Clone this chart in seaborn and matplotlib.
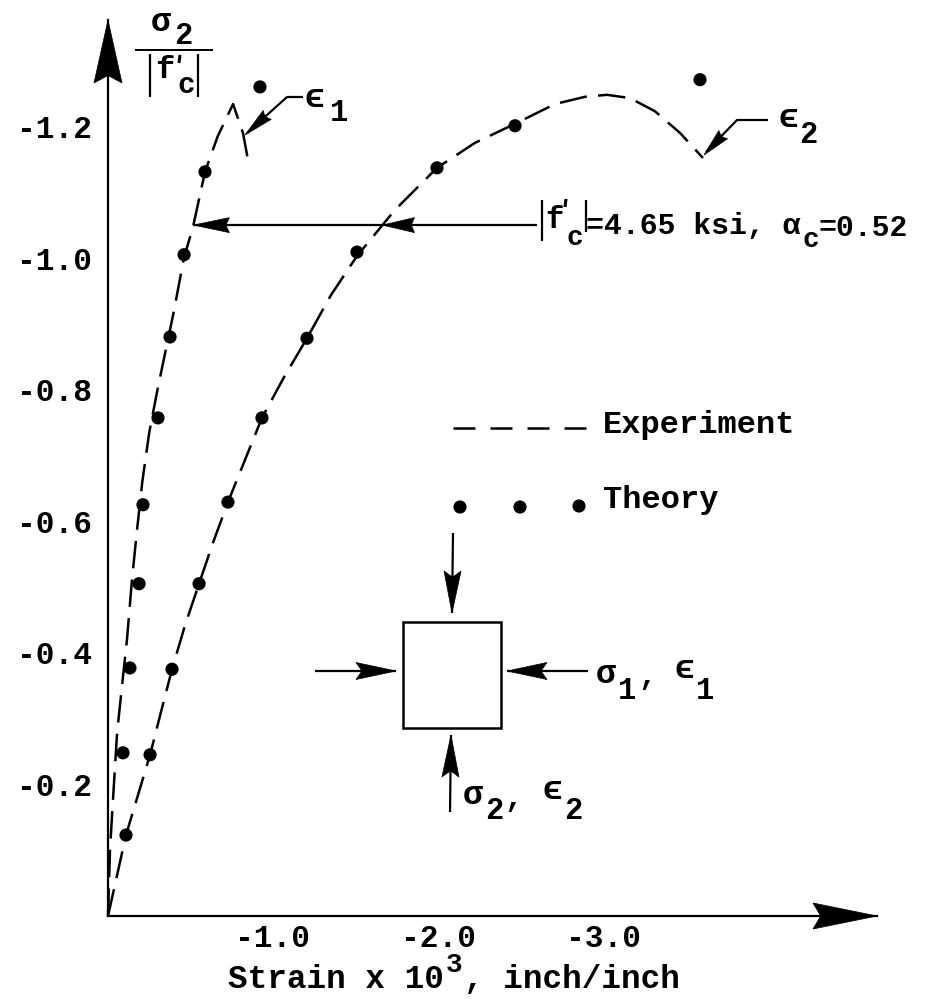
import numpy as np
import pandas as pd
import matplotlib
matplotlib.use("Agg")
import matplotlib.pyplot as plt
from matplotlib.patches import Polygon, Rectangle
import seaborn as sns

# ---- data: strain x 10^3 (compressive, negative) and sigma2/|f'c| ----
eps1_exp_strain = [0.0, -0.012, -0.030, -0.055, -0.085, -0.115, -0.145, -0.176, -0.208,
                   -0.250, -0.300, -0.350, -0.400, -0.460, -0.515, -0.588, -0.665,
                   -0.758, -0.818, -0.855]
eps1_exp_stress = [0.0, -0.100, -0.176, -0.278, -0.350, -0.420, -0.510, -0.587, -0.660,
                   -0.735, -0.800, -0.860, -0.920, -1.000, -1.047, -1.131, -1.185,
                   -1.234, -1.190, -1.140]

eps2_exp_strain = [0.0, -0.055, -0.109, -0.182, -0.255, -0.321, -0.388, -0.467, -0.552,
                   -0.636, -0.727, -0.830, -0.933, -1.067, -1.206, -1.352, -1.509,
                   -1.739, -1.994, -2.224, -2.467, -2.709, -2.891, -3.024, -3.164,
                   -3.315, -3.467, -3.606]
eps2_exp_stress = [0.0, -0.062, -0.123, -0.184, -0.245, -0.310, -0.375, -0.442, -0.505,
                   -0.567, -0.629, -0.693, -0.757, -0.819, -0.878, -0.944, -1.003,
                   -1.073, -1.137, -1.175, -1.204, -1.234, -1.245, -1.248, -1.243,
                   -1.223, -1.190, -1.152]

eps1_th_strain = [-0.091, -0.133, -0.188, -0.212, -0.303, -0.376, -0.461, -0.588, -0.921]
eps1_th_stress = [-0.248, -0.377, -0.505, -0.625, -0.757, -0.880, -1.005, -1.131, -1.260]

eps2_th_strain = [-0.109, -0.255, -0.388, -0.552, -0.727, -0.933, -1.206, -1.509,
                  -1.994, -2.467, -3.588]
eps2_th_stress = [-0.123, -0.245, -0.375, -0.505, -0.629, -0.757, -0.878, -1.009,
                  -1.137, -1.201, -1.271]

x_ticks = [-1.0, -2.0, -3.0]
x_tick_labels = ["-1.0", "-2.0", "-3.0"]
y_ticks = [-0.2, -0.4, -0.6, -0.8, -1.0, -1.2]
y_tick_labels = ["-0.2", "-0.4", "-0.6", "-0.8", "-1.0", "-1.2"]

fc_level = -1.05  # stress level marked by the |f'c| arrow

# ---- style ----
sns.set_theme(style="white")
MONO = ["Liberation Mono", "DejaVu Sans Mono", "DejaVu Sans"]
plt.rcParams["font.family"] = MONO
plt.rcParams["font.weight"] = "bold"
plt.rcParams["axes.unicode_minus"] = False
INK = "black"

W, H = 943, 1001
fig = plt.figure(figsize=(W / 100, H / 100), dpi=100)
fig.patch.set_facecolor("white")

X0, Y0 = 108, 916      # origin (pixels)
XT, YT = 877, 20       # axis arrow tips (pixels)
ax = fig.add_axes([X0 / W, (H - Y0) / H, (XT - X0) / W, (Y0 - YT) / H])
ax.set_facecolor("none")

dash = (0, (11, 4.5))
for xs, ys in [(eps1_exp_strain, eps1_exp_stress), (eps2_exp_strain, eps2_exp_stress)]:
    df = pd.DataFrame({"strain": xs, "stress": ys})
    sns.lineplot(data=df, x="strain", y="stress", ax=ax, sort=False, estimator=None,
                 color=INK, lw=1.8, linestyle=dash, clip_on=False, zorder=2)

dots = pd.DataFrame({"strain": eps1_th_strain + eps2_th_strain,
                     "stress": eps1_th_stress + eps2_th_stress})
sns.scatterplot(data=dots, x="strain", y="stress", ax=ax, color=INK, s=90,
                edgecolor="none", linewidth=0, clip_on=False, zorder=3)

ax.set_xlim(0, -(XT - X0) / 165.0)
ax.set_ylim(0, -(Y0 - YT) / 658.0)
ax.set(xlabel="", ylabel="")
ax.set_xticks(x_ticks)
ax.set_xticklabels(x_tick_labels)
ax.set_yticks(y_ticks)
ax.set_yticklabels(y_tick_labels)
ax.tick_params(direction="in", length=13, width=1.4, colors=INK, labelsize=22.5)
ax.tick_params(axis="y", pad=11.5)
ax.tick_params(axis="x", pad=6)
for side in ["top", "right"]:
    ax.spines[side].set_visible(False)
for side in ["left", "bottom"]:
    ax.spines[side].set_color(INK)
    ax.spines[side].set_linewidth(1.6)

# ---- overlay in pixel coordinates for annotations ----
deco = fig.add_axes([0, 0, 1, 1], zorder=10)
deco.set_xlim(0, W)
deco.set_ylim(H, 0)
deco.axis("off")


def to_px(x, y):
    p = ax.transData.transform((x, y))
    return deco.transData.inverted().transform(p)


def head(tip, d, L, Wd, notch=0.15):
    tx, ty = tip
    dx, dy = d
    n = np.hypot(dx, dy)
    dx, dy = dx / n, dy / n
    bx, by = tx - dx * L, ty - dy * L
    px, py = -dy, dx
    pts = [(tx, ty), (bx + px * Wd / 2, by + py * Wd / 2),
           (bx + dx * L * notch, by + dy * L * notch),
           (bx - px * Wd / 2, by - py * Wd / 2)]
    deco.add_patch(Polygon(pts, closed=True, fc=INK, ec=INK, lw=0.5, zorder=5))


def arrow(tail, tip, L, Wd, lw=1.6, notch=0.15):
    deco.plot([tail[0], tip[0]], [tail[1], tip[1]], color=INK, lw=lw,
              solid_capstyle="butt")
    head(tip, (tip[0] - tail[0], tip[1] - tail[1]), L, Wd, notch)


def txt(x, y, s, size=23):
    deco.text(x, y, s, fontsize=size, ha="left", va="baseline", family=MONO,
              weight="bold", color=INK)


def stroke(xs, ys, lw=1.6):
    deco.plot(xs, ys, color=INK, lw=lw, solid_capstyle="butt")


# axis arrowheads
head((X0, YT), (0, -1), 63, 28, 0.12)
head((XT, Y0), (1, 0), 64, 26, 0.12)

# y-axis label: sigma2 / |f'c|
txt(151, 31, "σ", 24)
txt(174, 44, "2", 22)
stroke([135, 213], [50, 50], 1.4)
stroke([150, 150], [54, 97])
stroke([198, 198], [54, 97])
txt(155, 78, "f", 23)
stroke([180, 179], [55, 63], 2.2)          # prime
txt(177, 93, "c", 21)

# x-axis label
txt(228, 988, "Strain x 10", 23.5)
txt(446, 972, "3", 20)
txt(464, 988, ", inch/inch", 23.5)

# |f'c| arrow to both curves
def strain_at(level, xs, ys):
    ys = np.asarray(ys)
    k = int(np.argmin(ys)) + 1
    return -np.interp(-level, -ys[:k], -np.asarray(xs[:k]))


tip1 = to_px(strain_at(fc_level, eps1_exp_strain, eps1_exp_stress), fc_level)
tip2 = to_px(strain_at(fc_level, eps2_exp_strain, eps2_exp_stress), fc_level)
stroke([537, tip1[0]], [tip1[1], tip1[1]])
head((tip1[0], tip1[1]), (-1, 0), 36, 15, 0.1)
head((tip2[0], tip2[1]), (-1, 0), 32, 15, 0.1)

stroke([542, 542], [200, 241])
txt(545, 228, "f", 22)
stroke([566, 565], [199, 207], 2.2)        # prime
txt(566, 245, "c", 20)
stroke([586, 586], [200, 232])
txt(586, 234, "=4.65 ksi, α", 21.5)
txt(802, 247, "c", 20)
txt(818, 236, "=0.52", 21.5)

# epsilon1 / epsilon2 leaders
stroke([303, 287, 247], [97, 97, 133])
head((245, 135), (245 - 287, 135 - 97), 30, 12, 0.1)
txt(305, 107, "ϵ", 24)
txt(330, 121, "1", 22)

stroke([768, 737, 706], [120, 120, 152])
head((704, 155), (704 - 737, 155 - 120), 28, 12, 0.1)
txt(778, 127, "ϵ", 24)
txt(799, 143, "2", 22)

# legend
deco.plot([453, 587], [428, 428], color=INK, lw=1.8, linestyle=(0, (8.8, 6)))
txt(603, 433, "Experiment", 23)
deco.scatter([460, 520, 579], [507, 507, 506], s=90, c=INK, edgecolors="none")
txt(603, 508, "Theory", 23)

# stress element sketch
deco.add_patch(Rectangle((403, 622), 98, 106, fill=False, ec=INK, lw=1.8))
arrow((453, 533), (452, 613), 42, 17)
arrow((450, 812), (451, 735), 42, 17)
arrow((315, 671), (396, 671), 40, 17)
arrow((588, 671), (507, 671), 40, 17)
txt(596, 683, "σ", 24)
txt(618, 699, "1", 22)
txt(638, 684, ",", 22)
txt(674, 678, "ϵ", 24)
txt(696, 699, "1", 22)
txt(463, 804, "σ", 24)
txt(485, 819, "2", 22)
txt(504, 806, ",", 22)
txt(542, 799, "ϵ", 24)
txt(564, 819, "2", 22)

fig.savefig("out.png", dpi=100, facecolor="white")
